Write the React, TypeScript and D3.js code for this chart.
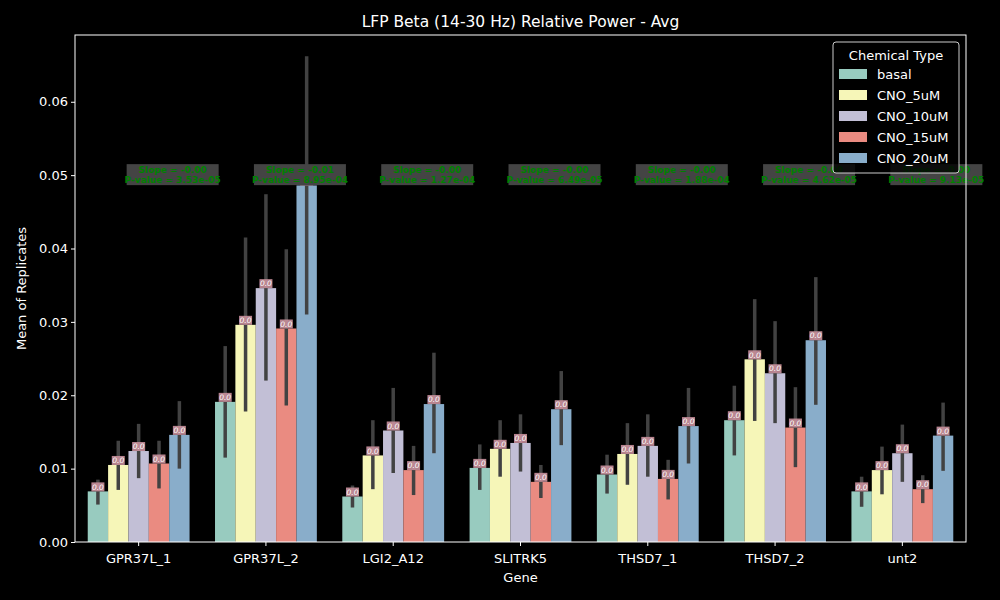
import { useEffect, useRef } from "react";
import * as d3 from "d3";

const genes = ["GPR37L_1", "GPR37L_2", "LGI2_A12", "SLITRK5", "THSD7_1", "THSD7_2", "unt2"];
const chemicals = ["basal", "CNO_5uM", "CNO_10uM", "CNO_15uM", "CNO_20uM"];
const colors = ["#98cbbf", "#f6f6b8", "#c2bfd6", "#ea8b81", "#89adca"];

// mean per gene, per chemical (same order as chemicals)
const means = [
  [0.0069, 0.0105, 0.0124, 0.0107, 0.0146],
  [0.0191, 0.0296, 0.0346, 0.0291, 0.0486],
  [0.0062, 0.0118, 0.0152, 0.0098, 0.0188],
  [0.0101, 0.0127, 0.0135, 0.0082, 0.0181],
  [0.0092, 0.0120, 0.0131, 0.0086, 0.0158],
  [0.0166, 0.0249, 0.0230, 0.0156, 0.0275],
  [0.0069, 0.0098, 0.0121, 0.0072, 0.0145],
];
const ciLow = [
  [0.0051, 0.0071, 0.0087, 0.0073, 0.0100],
  [0.0115, 0.0178, 0.0220, 0.0186, 0.0310],
  [0.0047, 0.0072, 0.0094, 0.0064, 0.0121],
  [0.0071, 0.0089, 0.0096, 0.0060, 0.0132],
  [0.0066, 0.0078, 0.0089, 0.0058, 0.0107],
  [0.0118, 0.0165, 0.0162, 0.0102, 0.0187],
  [0.0048, 0.0065, 0.0082, 0.0053, 0.0097],
];
const ciHigh = [
  [0.0085, 0.0138, 0.0161, 0.0138, 0.0192],
  [0.0267, 0.0415, 0.0474, 0.0399, 0.0662],
  [0.0077, 0.0166, 0.0210, 0.0131, 0.0258],
  [0.0133, 0.0166, 0.0174, 0.0105, 0.0233],
  [0.0119, 0.0162, 0.0174, 0.0112, 0.0210],
  [0.0213, 0.0331, 0.0301, 0.0211, 0.0361],
  [0.0089, 0.0130, 0.0160, 0.0091, 0.0190],
];
const slopes = ["-0.00", "-0.01", "-0.00", "-0.00", "-0.00", "-0.00", "-0.00"];
const pvalues = ["3.53e-05", "8.95e-04", "1.27e-04", "6.49e-05", "1.88e-04", "4.62e-05", "9.13e-05"];
const yTicks = [0, 0.01, 0.02, 0.03, 0.04, 0.05, 0.06];

const W = 1000, H = 600;
const M = { left: 75, right: 966, top: 35, bottom: 542 };

export default function App() {
  const ref = useRef<SVGSVGElement | null>(null);

  useEffect(() => {
    const svg = d3.select(ref.current!);
    svg.selectAll("*").remove();
    const font = "DejaVu Sans, sans-serif";

    svg.append("rect").attr("width", W).attr("height", H).attr("fill", "#000");

    const x = d3.scaleBand().domain(genes).range([M.left, M.right]).paddingInner(0).paddingOuter(0);
    const inner = d3.scaleBand().domain(chemicals).range([0, x.bandwidth() * 0.8]);
    const y = d3.scaleLinear().domain([0, 0.0691]).range([M.bottom, M.top]);
    const off = x.bandwidth() * 0.1;

    const g = svg.append("g");
    genes.forEach((gene, gi) => {
      chemicals.forEach((c, ci) => {
        const bx = x(gene)! + off + inner(c)!;
        const bw = inner.bandwidth();
        const v = means[gi][ci];
        g.append("rect").attr("x", bx).attr("y", y(v)).attr("width", bw)
          .attr("height", y(0) - y(v)).attr("fill", colors[ci]);
        g.append("line").attr("x1", bx + bw / 2).attr("x2", bx + bw / 2)
          .attr("y1", y(ciLow[gi][ci])).attr("y2", y(ciHigh[gi][ci]))
          .attr("stroke", "#424242").attr("stroke-width", 3.5);
      });
    });
    // value labels
    genes.forEach((gene, gi) => {
      chemicals.forEach((c, ci) => {
        const cx = x(gene)! + off + inner(c)! + inner.bandwidth() / 2;
        const v = means[gi][ci];
        g.append("rect").attr("x", cx - 6.5).attr("y", y(v) - 9).attr("width", 13).attr("height", 9)
          .attr("fill", "#c9909c").attr("opacity", 0.9);
        g.append("text").attr("x", cx).attr("y", y(v) - 1.8).attr("text-anchor", "middle")
          .attr("font-family", font).attr("font-size", 7.5).attr("font-style", "italic")
          .attr("fill", "#fff").text("0.0");
      });
    });
    // slope annotations
    genes.forEach((gene, gi) => {
      const cx = x(gene)! + x.bandwidth() / 2 + 34;
      const cy = y(0.05);
      g.append("rect").attr("x", cx - 46).attr("y", cy - 11).attr("width", 92).attr("height", 21)
        .attr("fill", "#444");
      const t = g.append("text").attr("text-anchor", "middle").attr("font-family", font)
        .attr("font-size", 9).attr("font-weight", "bold").attr("fill", "#008000");
      t.append("tspan").attr("x", cx).attr("y", cy - 2).text(`Slope = ${slopes[gi]}`);
      t.append("tspan").attr("x", cx).attr("y", cy + 8).text(`P-value = ${pvalues[gi]}`);
    });

    // frame
    svg.append("rect").attr("x", M.left).attr("y", M.top).attr("width", M.right - M.left)
      .attr("height", M.bottom - M.top).attr("fill", "none").attr("stroke", "#fff").attr("stroke-width", 1);

    const xa = svg.append("g").attr("transform", `translate(0,${M.bottom})`)
      .call(d3.axisBottom(x).tickSizeOuter(0).tickSize(4));
    const ya = svg.append("g").attr("transform", `translate(${M.left},0)`)
      .call(d3.axisLeft(y).tickValues(yTicks).tickFormat(d3.format(".2f")).tickSizeOuter(0).tickSize(4));
    [xa, ya].forEach((a) => {
      a.select(".domain").remove();
      a.selectAll("line").attr("stroke", "#fff");
      a.selectAll("text").attr("fill", "#fff").attr("font-size", 13).attr("font-family", font);
    });
    xa.selectAll("text").attr("dy", "1.1em");

    svg.append("text").attr("x", (M.left + M.right) / 2).attr("y", 582).attr("text-anchor", "middle")
      .attr("fill", "#fff").attr("font-family", font).attr("font-size", 13).text("Gene");
    svg.append("text").attr("transform", `translate(26,${(M.top + M.bottom) / 2}) rotate(-90)`)
      .attr("text-anchor", "middle").attr("fill", "#fff").attr("font-family", font).attr("font-size", 13)
      .text("Mean of Replicates");
    svg.append("text").attr("x", (M.left + M.right) / 2).attr("y", 27).attr("text-anchor", "middle")
      .attr("fill", "#fff").attr("font-family", font).attr("font-size", 15.5)
      .text("LFP Beta (14-30 Hz) Relative Power - Avg");

    // legend
    const lg = svg.append("g").attr("transform", "translate(833,42)");
    lg.append("rect").attr("width", 126).attr("height", 131).attr("rx", 3)
      .attr("fill", "#000").attr("fill-opacity", 0.8).attr("stroke", "#ccc");
    lg.append("text").attr("x", 63).attr("y", 18).attr("text-anchor", "middle").attr("fill", "#fff")
      .attr("font-family", font).attr("font-size", 13).text("Chemical Type");
    chemicals.forEach((c, i) => {
      const yy = 27 + i * 21;
      lg.append("rect").attr("x", 6).attr("y", yy).attr("width", 28).attr("height", 10).attr("fill", colors[i]);
      lg.append("text").attr("x", 44).attr("y", yy + 10).attr("fill", "#fff").attr("font-family", font)
        .attr("font-size", 13).text(c);
    });
  }, []);

  return <svg ref={ref} width={W} height={H} style={{ position: "absolute", left: 0, top: 0 }} />;
}
